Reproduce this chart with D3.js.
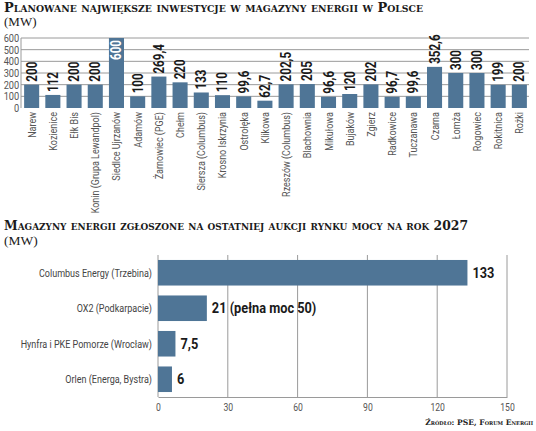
<!DOCTYPE html>
<html><head><meta charset="utf-8">
<script src="https://cdn.jsdelivr.net/npm/d3@7/dist/d3.min.js"></script>
<style>
body{margin:0;background:#fff;}
svg{display:block;}
.cond{font-family:Roboto,"Noto Sans",sans-serif;}
.ttl{font-family:"DejaVu Serif","Liberation Serif",serif;font-weight:bold;font-variant:small-caps;}
.sub{font-family:"Liberation Serif","DejaVu Serif",serif;}
</style></head>
<body>
<script>
// ---- data: chart 1 ----
const sites = ["Narew","Kozienice","Ełk Bis","Konin (Grupa Lewandpol)","Siedlce Ujrzanów","Adamów","Żarnowiec (PGE)","Chełm","Siersza (Columbus)","Krosno Iskrzynia","Ostrołęka","Klikowa","Rzeszów (Columbus)","Blachownia","Mikułowa","Bujaków","Zgierz","Radkowice","Tuczanawa","Czarna","Łomża","Rogowiec","Rokitnica","Rożki"];
const siteMW = [200,112,200,200,600,100,269.4,220,133,110,99.6,62.7,202.5,205,96.6,120,202,96.7,99.6,352.6,300,300,199,200];
const yTicks = [0,100,200,300,400,500,600];
// ---- data: chart 2 ----
const bidders = ["Columbus Energy (Trzebina)","OX2 (Podkarpacie)","Hynfra i PKE Pomorze (Wrocław)","Orlen (Energa, Bystra)"];
const bidMW = [133,21,7.5,6];
const bidLabels = ["133","21 (pełna moc 50)","7,5","6"];
const xTicks = [0,30,60,90,120,150];

const title1 = "Planowane największe inwestycje w magazyny energii w Polsce";
const title2 = "Magazyny energii zgłoszone na ostatniej aukcji rynku mocy na rok 2027";
const unit = "(MW)";
const source = "Źródło: PSE, Forum Energii";

const W=536,H=431;
const barColor="#4f7596", gridColor="#9a9a9a";
const fmt = v => String(v).replace(".", ",");

const svg = d3.select("body").append("svg").attr("width",W).attr("height",H);

// titles
svg.append("text").attr("class","ttl").attr("x",4).attr("y",12).attr("font-size",12.5)
  .attr("textLength",419).attr("lengthAdjust","spacingAndGlyphs").attr("fill","#1a1a1a").text(title1);
svg.append("text").attr("class","sub").attr("x",4).attr("y",26).attr("font-size",13).attr("fill","#1a1a1a").text(unit);

// ---- chart 1 ----
const y1 = d3.scaleLinear().domain([0,600]).range([108,38]);
const x1 = d3.scaleBand().domain(sites).range([22,529]).paddingInner(0.29).paddingOuter(0.1);

const g1 = svg.append("g");
g1.selectAll("line.grid").data(yTicks.filter(d=>d>0)).join("line")
  .attr("x1",21).attr("x2",529).attr("y1",d=>y1(d)).attr("y2",d=>y1(d))
  .attr("stroke",gridColor).attr("stroke-width",1);
g1.append("line").attr("x1",21).attr("x2",21).attr("y1",y1(600)).attr("y2",y1(0)).attr("stroke",gridColor);

const ya = d3.axisLeft(y1).tickValues(yTicks).tickSize(0).tickPadding(2);
const yg = g1.append("g").attr("transform","translate(21,0)").call(ya);
yg.select(".domain").remove();
yg.selectAll("text").attr("class","cond").attr("font-size",10.5).attr("fill","#555")
  .attr("transform","scale(0.88,1)");

g1.selectAll("rect.bar").data(siteMW).join("rect")
  .attr("x",(d,i)=>x1(sites[i])).attr("width",x1.bandwidth())
  .attr("y",d=>y1(d)).attr("height",d=>y1(0)-y1(d)).attr("fill",barColor);

g1.selectAll("text.val").data(siteMW).join("text")
  .attr("class","cond")
  .attr("transform",(d,i)=>{
    const cx = x1(sites[i])+x1.bandwidth()/2+5;
    const inside = d>=600;
    const yy = inside ? y1(d)+2 : y1(d)-3;
    return `translate(${cx},${yy}) rotate(-90) scale(0.8,1)`;
  })
  .attr("text-anchor",d=>d>=600?"end":"start")
  .attr("font-size",14.5).attr("font-weight","bold")
  .attr("fill",d=>d>=600?"#fff":"#1a1a1a")
  .text(d=>fmt(d));

g1.selectAll("text.cat").data(sites).join("text")
  .attr("class","cond")
  .attr("transform",d=>`translate(${x1(d)+x1.bandwidth()/2+4},112) rotate(-90) scale(0.82,1)`)
  .attr("text-anchor","end").attr("font-size",11).attr("fill","#555")
  .text(d=>d);

// ---- chart 2 ----
svg.append("text").attr("class","ttl").attr("x",4).attr("y",230).attr("font-size",12.5)
  .attr("textLength",464).attr("lengthAdjust","spacingAndGlyphs").attr("fill","#1a1a1a").text(title2);
svg.append("text").attr("class","sub").attr("x",4).attr("y",245).attr("font-size",13.5).attr("fill","#1a1a1a").text(unit);

const x2 = d3.scaleLinear().domain([0,150]).range([158,507]);
const y2 = d3.scaleBand().domain(bidders).range([255,397]).paddingInner(0.28).paddingOuter(0.14);

const g2 = svg.append("g");
g2.selectAll("line.vg").data(xTicks).join("line")
  .attr("x1",d=>x2(d)).attr("x2",d=>x2(d)).attr("y1",255).attr("y2",397)
  .attr("stroke",gridColor);
const xa = d3.axisBottom(x2).tickValues(xTicks).tickSize(0).tickPadding(7);
const xg = g2.append("g").attr("transform","translate(0,397)").call(xa);
xg.select(".domain").attr("stroke",gridColor);
xg.selectAll("text").attr("class","cond").attr("font-size",10.5).attr("fill","#555")
  .attr("transform","scale(0.82,1)");

g2.selectAll("rect.hb").data(bidMW).join("rect")
  .attr("x",x2(0)).attr("y",(d,i)=>y2(bidders[i]))
  .attr("width",d=>x2(d)-x2(0)).attr("height",y2.bandwidth()).attr("fill",barColor);

g2.selectAll("text.bl").data(bidLabels).join("text")
  .attr("class","cond")
  .attr("transform",(d,i)=>`translate(${x2(bidMW[i])+5},${y2(bidders[i])+y2.bandwidth()/2+5}) scale(0.85,1)`)
  .attr("font-size",15).attr("font-weight","bold").attr("fill","#1a1a1a")
  .text(d=>d);

g2.selectAll("text.bc").data(bidders).join("text")
  .attr("class","cond")
  .attr("transform",d=>`translate(152,${y2(d)+y2.bandwidth()/2+4}) scale(0.82,1)`)
  .attr("text-anchor","end").attr("font-size",11).attr("fill","#444")
  .text(d=>d);

svg.append("text").attr("class","ttl").attr("x",533).attr("y",425).attr("text-anchor","end")
  .attr("font-size",7.6).attr("fill","#222").text(source);
</script>
</body></html>
